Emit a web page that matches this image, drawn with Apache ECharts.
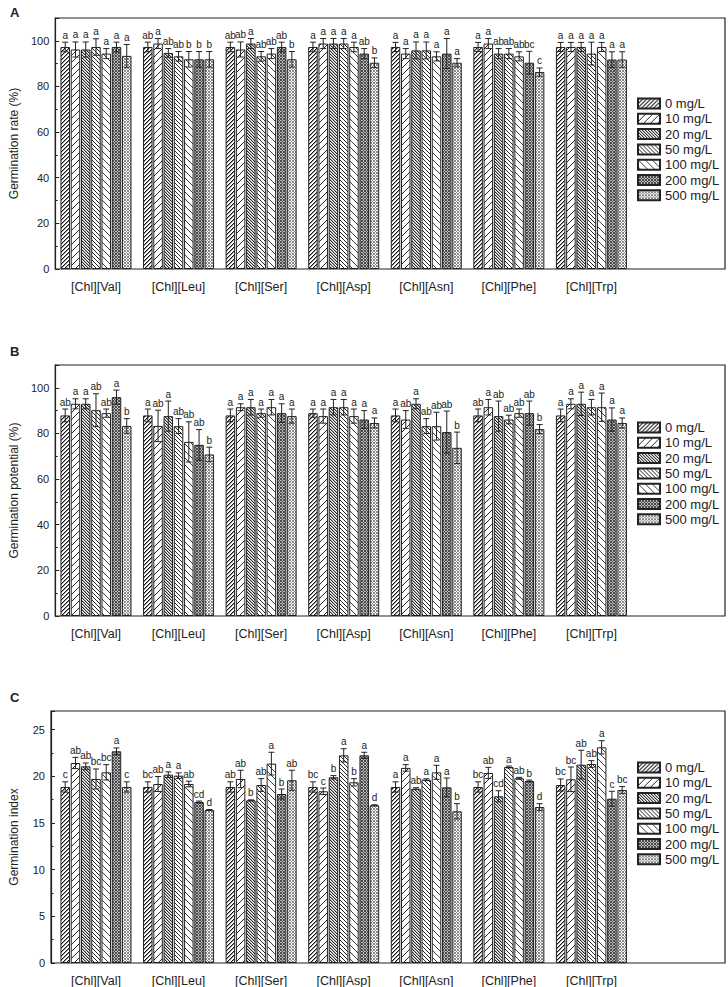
<!DOCTYPE html>
<html><head><meta charset="utf-8">
<script src="https://cdn.jsdelivr.net/npm/echarts@6/dist/echarts.min.js"></script>
<style>html,body{margin:0;padding:0;background:#fff}#c{width:728px;height:987px}</style>
</head><body><div id="c"></div><script>
const categories = ['[Chl][Val]','[Chl][Leu]','[Chl][Ser]','[Chl][Asp]','[Chl][Asn]','[Chl][Phe]','[Chl][Trp]'];
const concentrations = ['0 mg/L','10 mg/L','20 mg/L','50 mg/L','100 mg/L','200 mg/L','500 mg/L'];
const pctTicks = [0,20,40,60,80,100];
const indexTicks = [0,5,10,15,20,25];

// Panel A: germination rate (%), one row per concentration, one value per category
const rateMeans = [
  [97.3,97.3,97.3,97.3,97.3,97.3,97.3],
  [96.2,98.8,96.2,98.8,94.4,98.8,97.3],
  [96.2,94.7,98.8,98.8,95.8,94.4,97.3],
  [97.3,93.2,93.2,98.8,95.8,94.4,94.4],
  [94.4,91.9,94.4,97.3,93.2,93.2,97.3],
  [97.3,91.9,97.3,94.4,94.4,90.4,91.8],
  [93.4,91.9,91.9,90.4,90.4,86.3,91.8]
];
const rateErrs = [
  [2.1,2.1,2.1,2.1,2,2,2],
  [3.3,2.2,3.3,2.2,2.2,2.2,2],
  [3.3,1.9,2.2,2.2,3.7,2.2,2],
  [3.6,2.1,2.1,2.2,3.7,2.2,5],
  [2.2,3.4,2.2,2.1,2,2,2],
  [2.1,3.4,2.1,2.2,6.6,5,3.4],
  [5,3.4,3.4,2.1,1.8,1.8,3.4]
];
const rateLetters = [
  ['a','ab','ab','a','a','a','a'],
  ['a','a','ab','a','a','a','a'],
  ['a','ab','a','a','a','ab','a'],
  ['a','ab','ab','a','a','ab','a'],
  ['a','b','ab','a','a','ab','a'],
  ['a','b','ab','ab','a','bc','a'],
  ['a','b','b','b','a','c','a']
];

// Panel B: germination potential (%)
const potMeans = [
  [87.9,87.9,87.9,88.9,87.9,87.9,87.9],
  [93.0,83.3,91.5,87.6,86.1,91.5,93.0],
  [93.0,87.6,91.5,91.5,93.0,87.6,93.0],
  [90.2,83.2,88.9,91.5,83.2,86.1,91.5],
  [88.9,76.3,91.5,87.6,83.2,88.9,91.5],
  [95.9,75.0,88.9,86.1,80.6,88.9,86.1],
  [83.3,70.8,87.6,84.6,73.7,81.9,84.6]
];
const potErrs = [
  [2.8,2.8,2.8,1.8,2.8,2.8,2.8],
  [2.2,6.9,1.5,3.1,3.9,3.4,2.2],
  [2.2,6.6,3.4,3.4,2.2,6.6,5.1],
  [7.2,3.3,1.8,3.4,3.3,1.9,3.4],
  [1.8,8.8,3.4,3.1,6.1,1.8,6.2],
  [3.1,6.7,4.1,3.9,9.2,5.3,5.1],
  [3.2,3.2,3.1,2.2,6.9,2.0,2.2]
];
const potLetters = [
  ['ab','a','a','a','a','ab','a'],
  ['a','ab','a','a','ab','a','a'],
  ['a','a','a','a','a','ab','a'],
  ['ab','ab','a','a','ab','ab','a'],
  ['ab','ab','a','a','ab','ab','a'],
  ['a','ab','a','a','ab','ab','a'],
  ['b','b','a','a','b','b','a']
];

// Panel C: germination index
const idxMeans = [
  [18.86,18.86,18.86,18.86,18.86,18.86,19.07],
  [21.43,19.18,19.72,18.4,20.9,20.36,19.68],
  [21.07,20.18,17.43,19.9,18.68,17.86,21.25],
  [19.72,20.07,19.07,22.25,19.64,21.0,21.32],
  [20.43,19.18,21.36,19.36,20.43,19.79,23.11],
  [22.68,17.25,18.11,22.25,18.82,19.5,17.6],
  [18.86,16.39,19.58,16.9,16.25,16.71,18.54]
];
const idxErrs = [
  [0.55,0.55,0.55,0.55,0.55,0.55,0.65],
  [0.6,0.8,0.93,0.35,0.35,0.6,1.32],
  [0.36,0.3,0.05,0.18,0.1,0.6,1.54],
  [1.07,0.3,0.68,0.71,0.1,0.1,0.36],
  [0.82,0.3,1.22,0.39,0.75,0.1,0.71],
  [0.36,0.1,0.53,0.33,1.0,0.1,0.8],
  [0.55,0.05,1.07,0.05,0.82,0.36,0.36]
];
const idxLetters = [
  ['c','bc','ab','bc','a','bc','bc'],
  ['ab','ab','ab','c','a','ab','bc'],
  ['ab','a','b','b','ab','cd','ab'],
  ['bc','a','ab','a','a','a','ab'],
  ['bc','ab','a','b','a','ab','a'],
  ['a','cd','b','a','a','b','c'],
  ['c','d','ab','d','b','d','bc']
];

const FONT = '"Liberation Sans", Arial, sans-serif';
const INK = '#222';
const CAT_GAP = 0.14, BAR_GAP = 0.08;

// hatch tiles (fill styles)
const mod = (a, n) => ((a % n) + n) % n;
function tile(size, shade) {
  const c = document.createElement('canvas');
  c.width = size; c.height = size;
  const ctx = c.getContext('2d');
  const img = ctx.createImageData(size, size);
  for (let y = 0; y < size; y++) for (let x = 0; x < size; x++) {
    const g = shade(x, y), o = 4*(y*size + x);
    img.data[o] = g; img.data[o+1] = g; img.data[o+2] = g; img.data[o+3] = 255;
  }
  ctx.putImageData(img, 0, 0);
  return {image: c.toDataURL(), repeat: 'repeat', imageWidth: size, imageHeight: size};
}
const fills = [
  tile(4, (x, y) => { const d = mod(x + y, 4); return d === 0 ? 20 : d === 1 ? 150 : 255; }),
  tile(7, (x, y) => mod(x + y, 7) === 0 ? 40 : 255),
  tile(3, (x, y) => { const d = mod(x - y, 3); return d === 0 ? 40 : d === 1 ? 175 : 255; }),
  tile(4, (x, y) => mod(x - y, 4) === 0 ? 40 : 255),
  tile(7, (x, y) => mod(x - y, 7) === 0 ? 60 : 255),
  tile(3, (x, y) => (mod(x + y, 3) === 0 || mod(x - y, 3) === 0) ? 75 : 185),
  tile(3, (x, y) => (mod(x + y, 3) === 0 || mod(x - y, 3) === 0) ? 135 : 255)
];

const panels = [
  {label:'A', name:'Germination rate (%)', means:rateMeans, errs:rateErrs, letters:rateLetters, ticks:pctTicks, max:110, interval:20, top:18, height:251, legendTop:92},
  {label:'B', name:'Germination potential (%)', means:potMeans, errs:potErrs, letters:potLetters, ticks:pctTicks, max:110, interval:20, top:365, height:251, legendTop:416},
  {label:'C', name:'Germination index', means:idxMeans, errs:idxErrs, letters:idxLetters, ticks:indexTicks, max:27, interval:5, top:711, height:252, legendTop:756}
];
const titleTops = [1, 340, 686];

const grid = [], xAxis = [], yAxis = [], series = [], legend = [], title = [];
panels.forEach((p, k) => {
  const fi = 2*k, di = 2*k+1;
  grid.push({left:44, right:3, top:p.top, height:p.height, show:true, borderColor:INK, borderWidth:1.2, backgroundColor:'transparent'});
  grid.push({left:54.7, width:578, top:p.top, height:p.height});
  xAxis.push({gridIndex:fi, type:'value', show:false, min:0, max:1});
  xAxis.push({gridIndex:di, type:'category', data:categories, axisLine:{show:false}, axisTick:{show:false},
    axisLabel:{fontSize:12.5, color:INK, fontFamily:FONT, margin:11}});
  yAxis.push({gridIndex:fi, type:'value', min:0, max:p.max, interval:p.interval,
    name:p.name, nameLocation:'middle', nameGap:31, nameTextStyle:{fontSize:12, color:INK, fontFamily:FONT},
    axisLine:{show:true, lineStyle:{color:INK, width:1.2}},
    axisTick:{show:true, inside:true, length:4, lineStyle:{color:INK}},
    minorTick:{show:true, splitNumber:2, length:2.5, lineStyle:{color:INK}},
    splitLine:{show:false},
    axisLabel:{fontSize:11, color:INK, fontFamily:FONT, margin:6,
      formatter: v => p.ticks.indexOf(v) >= 0 ? String(v) : ''}});
  yAxis.push({gridIndex:di, type:'value', min:0, max:p.max, show:false, splitLine:{show:false}});
  concentrations.forEach((c, j) => {
    series.push({type:'bar', name:c, xAxisIndex:di, yAxisIndex:di, data:p.means[j],
      barCategoryGap:(CAT_GAP*100)+'%', barGap:(BAR_GAP*100)+'%',
      itemStyle:{color:fills[j], borderColor:INK, borderWidth:1},
      emphasis:{disabled:true}, silent:true});
  });
  const errData = [];
  for (let j = 0; j < 7; j++) for (let i = 0; i < 7; i++) errData.push([i, j, p.means[j][i], p.errs[j][i]]);
  series.push({type:'custom', xAxisIndex:di, yAxisIndex:di, z:5, silent:true, data:errData,
    encode:{x:0, y:2},
    renderItem:(params, api) => {
      const i = api.value(0), j = api.value(1), m = api.value(2), e = api.value(3);
      const band = api.size([1, 0])[0];
      const avail = band * (1 - CAT_GAP);
      const w = avail / (7 + 6*BAR_GAP);
      const cx = api.coord([i, m])[0] - avail/2 + j*w*(1+BAR_GAP) + w/2;
      const yT = api.coord([i, m+e])[1], yB = api.coord([i, m-e])[1];
      const cap = 3;
      const ls = {stroke:INK, lineWidth:1};
      return {type:'group', children:[
        {type:'line', shape:{x1:cx, y1:yT, x2:cx, y2:yB}, style:ls},
        {type:'line', shape:{x1:cx-cap, y1:yT, x2:cx+cap, y2:yT}, style:ls},
        {type:'line', shape:{x1:cx-cap, y1:yB, x2:cx+cap, y2:yB}, style:ls},
        {type:'text', style:{text:p.letters[j][i], x:cx, y:yT-2, align:'center', verticalAlign:'bottom',
          fontSize:10, fontFamily:FONT, fill:INK}}
      ]};
    }});
  legend.push({data:concentrations, orient:'vertical', left:632, top:p.legendTop, itemWidth:22, itemHeight:10, itemGap:2.3,
    icon:'rect', selectedMode:false, textStyle:{fontSize:13, color:INK, fontFamily:FONT}});
  title.push({text:p.label, left:5, top:titleTops[k], textStyle:{fontSize:13, fontWeight:'bold', color:INK, fontFamily:FONT}});
});

const chart = echarts.init(document.getElementById('c'), null, {renderer:'svg'});
chart.setOption({animation:false, backgroundColor:'#fff', title, grid, xAxis, yAxis, legend, series});
</script></body></html>
